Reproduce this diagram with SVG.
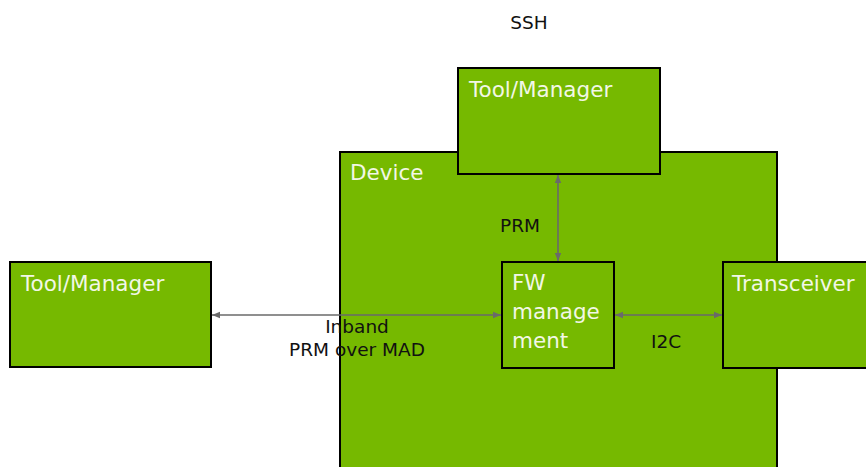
<svg xmlns="http://www.w3.org/2000/svg" width="866" height="467" viewBox="0 0 866 467">
<style>
.box{fill:#76b900;stroke:#000;stroke-width:2}
.wt{fill:#f2f7e6;font-family:"DejaVu Sans",sans-serif;font-size:21.5px}
.lb{fill:#111;font-family:"DejaVu Sans",sans-serif;font-size:18.5px}
.con{stroke:#6a6a6a;stroke-width:1.6;fill:none;marker-start:url(#ah);marker-end:url(#ah)}
</style>
<defs>
<marker id="ah" viewBox="0 0 10 10" refX="10" refY="5" markerWidth="5" markerHeight="5" orient="auto-start-reverse">
<path d="M0,1 L10,5 L0,9 z" fill="#6a6a6a"/>
</marker>
</defs>
<rect width="866" height="467" fill="#fff"/>
<g id="device">
<rect class="box" x="340" y="152" width="437" height="320"/>
<text class="wt" x="350" y="180">Device</text>
</g>
<g id="tool-top">
<rect class="box" x="458" y="68" width="202" height="106"/>
<text class="wt" x="469" y="97">Tool/Manager</text>
</g>
<g id="tool-left">
<rect class="box" x="10" y="262" width="201" height="105"/>
<text class="wt" x="21" y="291">Tool/Manager</text>
</g>
<g id="fw">
<rect class="box" x="502" y="262" width="112" height="106"/>
<text class="wt" x="512" y="290">FW</text>
<text class="wt" x="512" y="319">manage</text>
<text class="wt" x="512" y="348">ment</text>
</g>
<g id="transceiver">
<rect class="box" x="723" y="262" width="150" height="106"/>
<text class="wt" x="732" y="291">Transceiver</text>
</g>
<g id="connectors">
<line class="con" x1="212" y1="315" x2="501" y2="315"/>
<line class="con" x1="615" y1="315" x2="722" y2="315"/>
<line class="con" x1="558" y1="175" x2="558" y2="261"/>
</g>
<g id="labels">
<text class="lb" x="529" y="29" text-anchor="middle">SSH</text>
<text class="lb" x="520" y="232" text-anchor="middle">PRM</text>
<text class="lb" x="357" y="333" text-anchor="middle">Inband</text>
<text class="lb" x="357" y="356" text-anchor="middle">PRM over MAD</text>
<text class="lb" x="666" y="348" text-anchor="middle">I2C</text>
</g>
</svg>
